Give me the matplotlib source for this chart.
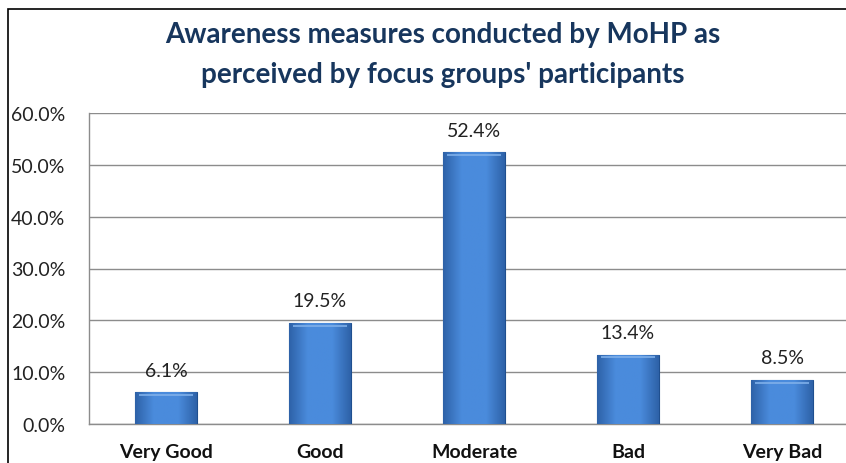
import matplotlib
matplotlib.use("Agg")
import matplotlib.pyplot as plt
import numpy as np
from matplotlib.patches import Rectangle

categories = ["Very Good", "Good", "Moderate", "Bad", "Very Bad"]
values = [6.1, 19.5, 52.4, 13.4, 8.5]
yticks = [0, 10, 20, 30, 40, 50, 60]
title = "Awareness measures conducted by MoHP as\nperceived by focus groups' participants"

plt.rcParams['font.family'] = ['Lato', 'DejaVu Sans']

W, H = 846, 464
fig = plt.figure(figsize=(W / 100, H / 100), dpi=100)
fig.patch.set_facecolor("white")

# outer frame (cropped on right/bottom)
fig.patches.append(Rectangle((8 / W, -0.5), 2.0, (H - 10) / H + 0.5,
                             transform=fig.transFigure, fill=False,
                             edgecolor="black", linewidth=1.2))

left, right = 89 / W, 859 / W
bottom, top = (H - 425) / H, (H - 114) / H
ax = fig.add_axes([left, bottom, right - left, top - bottom])
ax.set_facecolor("none")

x = np.arange(len(categories))
bw = 0.40
bars = ax.bar(x, values, width=bw, color="#3B78C6", edgecolor="#1F4F8F",
              linewidth=0.8, zorder=3)

# gradient shading on each bar
grad = np.linspace(0, 1, 100)
shade = np.vstack([np.minimum(grad, 1 - grad)] * 2)
cmap = matplotlib.colors.LinearSegmentedColormap.from_list("b", ["#2E62A8", "#4A8BDC"])
for b in bars:
    x0, y0 = b.get_x(), b.get_y()
    w, h = b.get_width(), b.get_height()
    im = ax.imshow(shade, extent=(x0, x0 + w, y0, y0 + h),
                   aspect="auto", cmap=cmap, vmin=0, vmax=0.3, zorder=3.5)
    im.set_clip_path(b)
    # top bevel
    ax.plot([x0 + w * 0.06, x0 + w * 0.94], [y0 + h - 0.5, y0 + h - 0.5],
            color="#7FB0EA", linewidth=1.2, zorder=4, solid_capstyle="butt")
    ax.text(x0 + w / 2, y0 + h + 2.6, f"{h:.1f}%", ha="center", va="bottom",
            fontsize=14, color="#222222", zorder=5)

ax.set_xlim(-0.5, len(categories) - 0.5)
ax.set_ylim(0, 60)
ax.set_yticks(yticks)
ax.set_yticklabels([f"{v:.1f}%" for v in yticks], fontsize=14, color="#222222")
ax.set_xticks(x)
ax.set_xticklabels(categories, fontsize=14, fontweight="bold", color="#111111")
ax.tick_params(axis="y", length=0, pad=17)
ax.tick_params(axis="x", length=0, pad=14)
ax.grid(axis="y", color="#8C8C8C", linewidth=1.0, zorder=0)
for s in ["top", "right"]:
    ax.spines[s].set_visible(False)
ax.spines["left"].set_color("#8C8C8C")
ax.spines["bottom"].set_color("#8C8C8C")
ax.spines["left"].set_linewidth(1.0)
ax.spines["bottom"].set_linewidth(1.0)

fig.text(443 / W, 1 - 55 / H, title, ha="center", va="center", fontsize=20,
         fontweight="bold", color="#17365D", linespacing=1.65)

fig.savefig("out.png", dpi=100)
